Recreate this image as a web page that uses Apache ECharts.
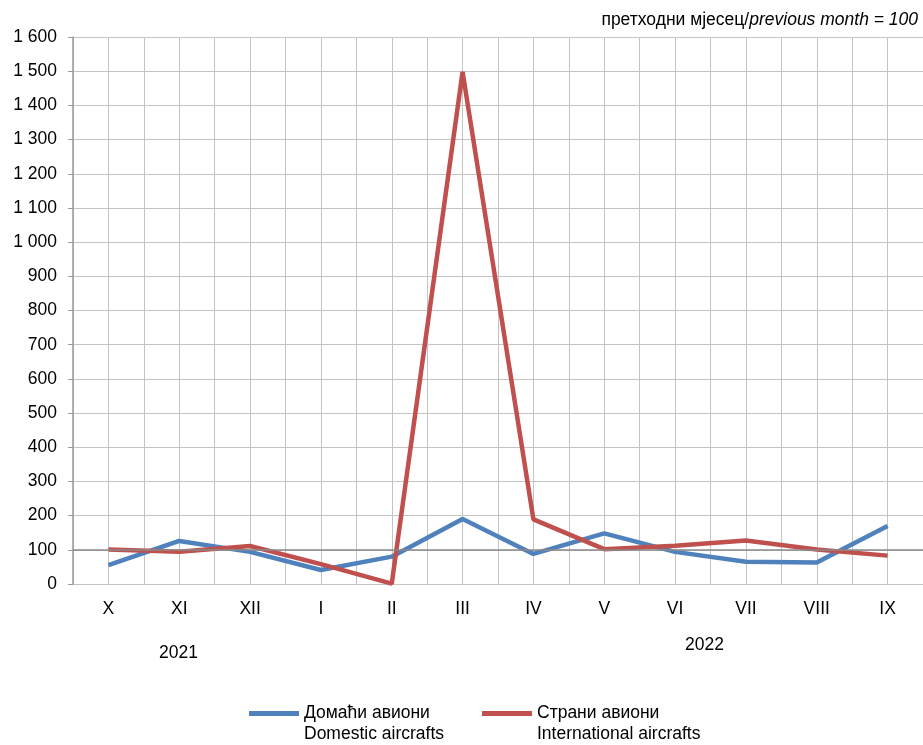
<!DOCTYPE html>
<html>
<head>
<meta charset="utf-8">
<script src="https://cdn.jsdelivr.net/npm/echarts@6/dist/echarts.min.js"></script>
<style>
  body { margin: 0; background: #fff; }
  #chart { width: 923px; height: 745px; }
</style>
</head>
<body>
<div id="chart"></div>
<script>
const months = ['X', 'XI', 'XII', 'I', 'II', 'III', 'IV', 'V', 'VI', 'VII', 'VIII', 'IX'];
const domestic = [55, 126, 94, 41, 80, 190, 88, 148, 94, 65, 63, 170];
const international = [101, 94, 111, 58, 1, 1498, 189, 102, 112, 127, 101, 83];
const seriesNames = ['Домаћи авиони', 'Страни авиони'];
const seriesNamesEn = ['Domestic aircrafts', 'International aircrafts'];
const years = ['2021', '2022'];

const font = 'Liberation Sans, Arial, sans-serif';
const fs = 17.5;

function legendAt(left, name) {
  return {
    left: left,
    top: 697,
    itemWidth: 50,
    itemHeight: 5,
    itemGap: 0,
    icon: 'rect',
    textStyle: {fontSize: fs, color: '#000', lineHeight: 23},
    data: [name]
  };
}

echarts.init(document.getElementById('chart')).setOption({
  animation: false,
  textStyle: {fontFamily: font, color: '#000'},
  grid: {left: 73, top: 37, width: 851, height: 547},
  xAxis: [{
    type: 'category',
    data: months,
    axisLine: {show: false},
    axisTick: {show: false},
    splitLine: {show: false},
    axisLabel: {fontSize: fs, color: '#000', margin: 16}
  }, {
    type: 'value',
    min: 0,
    max: 24,
    interval: 1,
    axisLine: {show: false},
    axisTick: {show: false},
    axisLabel: {show: false},
    splitLine: {show: true, lineStyle: {color: '#c4c4c4', width: 1}}
  }],
  yAxis: {
    type: 'value',
    min: 0,
    max: 1600,
    interval: 100,
    axisLine: {show: true, lineStyle: {color: '#9a9a9a', width: 1.5}},
    axisTick: {show: true, length: 5, lineStyle: {color: '#9a9a9a'}},
    splitLine: {lineStyle: {color: '#c4c4c4', width: 1}},
    axisLabel: {
      fontSize: fs, color: '#000', margin: 16,
      formatter: v => v >= 1000 ? Math.floor(v / 1000) + ' ' + String(v % 1000).padStart(3, '0') : String(v)
    }
  },
  legend: [legendAt(244, seriesNames[0]), legendAt(477, seriesNames[1])],
  graphic: [
    {
      type: 'text', right: 5, top: 11,
      style: {
        text: '{n|претходни мјесец/}{i|previous month = 100}',
        rich: {
          n: {font: fs + 'px ' + font, fill: '#000'},
          i: {font: 'italic ' + fs + 'px ' + font, fill: '#000'}
        }
      }
    },
    {type: 'text', left: 304, top: 725, style: {text: seriesNamesEn[0], font: fs + 'px ' + font, fill: '#000'}},
    {type: 'text', left: 537, top: 725, style: {text: seriesNamesEn[1], font: fs + 'px ' + font, fill: '#000'}},
    {type: 'text', left: 159, top: 644, style: {text: years[0], font: fs + 'px ' + font, fill: '#000'}},
    {type: 'text', left: 685, top: 636, style: {text: years[1], font: fs + 'px ' + font, fill: '#000'}}
  ],
  series: [{
    name: seriesNames[0],
    type: 'line',
    data: domestic,
    symbol: 'none',
    lineStyle: {width: 4.5, color: '#4f81bd'},
    itemStyle: {color: '#4f81bd'},
    z: 3,
    markLine: {
      silent: true,
      symbol: 'none',
      label: {show: false},
      lineStyle: {color: '#8a8a8a', width: 1.5, type: 'solid'},
      data: [{yAxis: 100}]
    }
  }, {
    name: seriesNames[1],
    type: 'line',
    data: international,
    symbol: 'none',
    lineStyle: {width: 4.5, color: '#c0504d'},
    itemStyle: {color: '#c0504d'},
    z: 4
  }]
});
</script>
</body>
</html>
